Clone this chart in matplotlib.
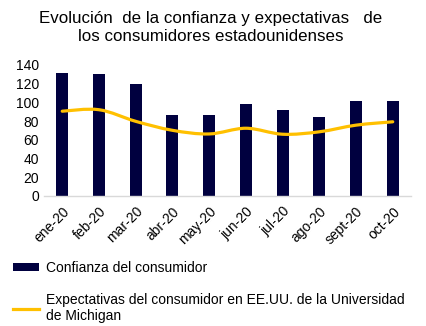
import matplotlib
matplotlib.use('Agg')
import matplotlib.pyplot as plt
from matplotlib.path import Path
from matplotlib.patches import PathPatch, Patch
from matplotlib.lines import Line2D
import numpy as np

plt.rcParams['font.family'] = ['Liberation Sans', 'DejaVu Sans']

months = ['ene-20', 'feb-20', 'mar-20', 'abr-20', 'may-20',
          'jun-20', 'jul-20', 'ago-20', 'sept-20', 'oct-20']
confianza = [131.6, 130.7, 119.7, 86.5, 86.5, 98.3, 91.9, 84.8, 101.8, 100.9]
expectativas = [90.5, 92.1, 79.7, 70.1, 66.2, 72.3, 65.9, 68.5, 75.6, 79.2]
yticks = [0, 20, 40, 60, 80, 100, 120, 140]

NAVY = '#00003F'
GOLD = '#FFC000'

fig = plt.figure(figsize=(4.26, 3.26), dpi=100)
ax = fig.add_axes([0.103, 0.399, 0.862, 0.402])

x = np.arange(len(months))
ax.bar(x, confianza, width=0.33, color=NAVY, zorder=2)

# smoothed line (Catmull-Rom -> cubic Bezier), like Excel's smoothed series
pts = np.column_stack([x, expectativas]).astype(float)
verts = [tuple(pts[0])]
codes = [Path.MOVETO]
for i in range(len(pts) - 1):
    p0 = pts[i - 1] if i > 0 else pts[i]
    p1, p2 = pts[i], pts[i + 1]
    p3 = pts[i + 2] if i + 2 < len(pts) else pts[i + 1]
    c1 = p1 + (p2 - p0) / 6.0
    c2 = p2 - (p3 - p1) / 6.0
    verts += [tuple(c1), tuple(c2), tuple(p2)]
    codes += [Path.CURVE4] * 3
ax.add_patch(PathPatch(Path(verts, codes), facecolor='none', edgecolor=GOLD,
                       lw=2.3, capstyle='round', joinstyle='round', zorder=3))

ax.set_xlim(-0.5, len(months) - 0.5)
ax.set_ylim(0, 140)
ax.set_yticks(yticks)
ax.set_xticks(x)
ax.set_xticklabels(months, rotation=45, ha='right', rotation_mode='anchor')
ax.tick_params(axis='both', length=0, labelsize=10, colors='black')
ax.tick_params(axis='x', pad=6)
for s in ['top', 'right', 'left']:
    ax.spines[s].set_visible(False)
ax.spines['bottom'].set_color('#D9D9D9')
ax.spines['bottom'].set_linewidth(1.0)

fig.text(0.495, 0.965, 'Evolución  de la confianza y expectativas   de\nlos consumidores estadounidenses',
         ha='center', va='top', fontsize=12.2, linespacing=1.2)

handles = [Patch(facecolor=NAVY, edgecolor='none'),
           Line2D([0], [0], color=GOLD, lw=2.3)]
labels = ['Confianza del consumidor',
          'Expectativas del consumidor en EE.UU. de la Universidad\nde Michigan']
fig.legend(handles, labels, loc='upper left', bbox_to_anchor=(0.012, 0.225),
           frameon=False, fontsize=10, handlelength=1.85, handleheight=0.45,
           handletextpad=0.5, labelspacing=1.3, borderaxespad=0.2)

fig.savefig('out.png', dpi=100)
